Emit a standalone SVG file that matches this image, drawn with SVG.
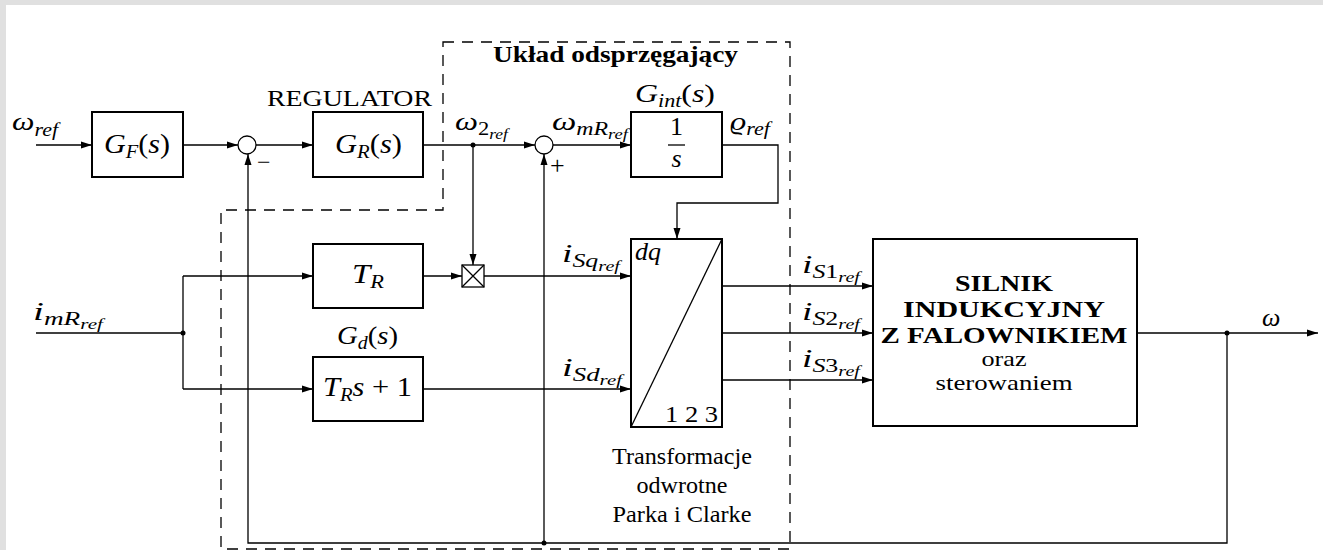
<svg xmlns="http://www.w3.org/2000/svg" width="1323" height="550" viewBox="0 0 1323 550">
<style>
.box{fill:#fff;stroke:#000;stroke-width:2}
.ln{fill:none;stroke:#000;stroke-width:1.3}
.dash{fill:none;stroke:#000;stroke-width:1.3;stroke-dasharray:11 8}
.m{font-family:"Liberation Serif",serif;font-style:italic;fill:#000}
.r{font-family:"Liberation Serif",serif;fill:#000}
.b{font-family:"Liberation Serif",serif;font-weight:bold;fill:#000}
.up{font-style:normal}
.dot{fill:#000}
</style>
<defs>
<marker id="ar" markerUnits="userSpaceOnUse" markerWidth="11" markerHeight="8" refX="11" refY="4" orient="auto">
<path d="M0,0.5 L11,4 L0,7.5 Z" fill="#000"/>
</marker>
</defs>
<rect x="0" y="0" width="1323" height="550" fill="#fff"/>
<rect x="0" y="0" width="1323" height="5" fill="#e0e0e0"/>
<rect x="0" y="0" width="6" height="550" fill="#e0e0e0"/>

<g id="decoupling-frame">
<path class="dash" d="M443,42 H790 V549 H221 V210 H443 Z"/>
<text class="b" x="493" y="62" font-size="23" textLength="245" lengthAdjust="spacingAndGlyphs">Układ odsprzęgający</text>
</g>

<g id="connectors">
<path class="ln" d="M36,145 H92" marker-end="url(#ar)"/>
<path class="ln" d="M183,145 H238" marker-end="url(#ar)"/>
<path class="ln" d="M256,145 H313" marker-end="url(#ar)"/>
<path class="ln" d="M423,145 H535" marker-end="url(#ar)"/>
<path class="ln" d="M553,145 H631" marker-end="url(#ar)"/>
<path class="ln" d="M722,145 H778 V203 H677 V239" marker-end="url(#ar)"/>
<path class="ln" d="M473,145 V265" marker-end="url(#ar)"/>
<path class="ln" d="M36,333 H183"/>
<path class="ln" d="M183,276 V389"/>
<path class="ln" d="M183,276 H313" marker-end="url(#ar)"/>
<path class="ln" d="M183,389 H313" marker-end="url(#ar)"/>
<path class="ln" d="M423,276 H462" marker-end="url(#ar)"/>
<path class="ln" d="M484,276 H631" marker-end="url(#ar)"/>
<path class="ln" d="M423,389 H631" marker-end="url(#ar)"/>
<path class="ln" d="M722,286 H873" marker-end="url(#ar)"/>
<path class="ln" d="M722,333 H873" marker-end="url(#ar)"/>
<path class="ln" d="M722,380 H873" marker-end="url(#ar)"/>
<path class="ln" d="M1137,333 H1318" marker-end="url(#ar)"/>
<path class="ln" d="M1227,333 V543 H248 V154" marker-end="url(#ar)"/>
<path class="ln" d="M544,543 V154" marker-end="url(#ar)"/>
<circle class="dot" cx="473" cy="145" r="2.5"/>
<circle class="dot" cx="183" cy="333" r="2.5"/>
<circle class="dot" cx="1227" cy="333" r="2.5"/>
<circle class="dot" cx="544" cy="543" r="2.5"/>
<text class="m" x="12" y="130" font-size="26" textLength="46" lengthAdjust="spacingAndGlyphs">ω<tspan font-size="18" dy="6">ref</tspan></text>
<text class="m" x="455" y="130" font-size="26" textLength="53" lengthAdjust="spacingAndGlyphs">ω<tspan class="up" font-size="18" dy="5">2</tspan><tspan font-size="14" dy="4">ref</tspan></text>
<text class="m" x="552" y="130" font-size="26" textLength="76" lengthAdjust="spacingAndGlyphs">ω<tspan font-size="18" dy="5">mR</tspan><tspan font-size="14" dy="4">ref</tspan></text>
<text class="m" x="730" y="130" font-size="26" textLength="40" lengthAdjust="spacingAndGlyphs">ϱ<tspan font-size="18" dy="5">ref</tspan></text>
<text class="m" x="33" y="320" font-size="26" textLength="70" lengthAdjust="spacingAndGlyphs">i<tspan font-size="18" dy="5">mR</tspan><tspan font-size="14" dy="4">ref</tspan></text>
<text class="m" x="562" y="262" font-size="26" textLength="58" lengthAdjust="spacingAndGlyphs">i<tspan font-size="18" dy="5">Sq</tspan><tspan font-size="14" dy="4">ref</tspan></text>
<text class="m" x="562" y="376" font-size="26" textLength="60" lengthAdjust="spacingAndGlyphs">i<tspan font-size="18" dy="5">Sd</tspan><tspan font-size="14" dy="4">ref</tspan></text>
<text class="m" x="802" y="273" font-size="26" textLength="58" lengthAdjust="spacingAndGlyphs">i<tspan font-size="18" dy="5">S</tspan><tspan class="up" font-size="18">1</tspan><tspan font-size="14" dy="4">ref</tspan></text>
<text class="m" x="802" y="320" font-size="26" textLength="58" lengthAdjust="spacingAndGlyphs">i<tspan font-size="18" dy="5">S</tspan><tspan class="up" font-size="18">2</tspan><tspan font-size="14" dy="4">ref</tspan></text>
<text class="m" x="802" y="367" font-size="26" textLength="58" lengthAdjust="spacingAndGlyphs">i<tspan font-size="18" dy="5">S</tspan><tspan class="up" font-size="18">3</tspan><tspan font-size="14" dy="4">ref</tspan></text>
<text class="m" x="1262" y="326" font-size="26">ω</text>
</g>

<g id="GF">
<rect class="box" x="92" y="112" width="91" height="65"/>
<text class="m" x="104" y="153" font-size="28" textLength="66" lengthAdjust="spacingAndGlyphs">G<tspan font-size="19" dy="5">F</tspan><tspan class="up" dy="-5">(</tspan>s<tspan class="up">)</tspan></text>
</g>

<g id="sum1">
<circle cx="247" cy="145" r="9" fill="#fff" stroke="#000" stroke-width="1.3"/>
<text class="r" x="257" y="170" font-size="24">−</text>
</g>

<g id="GR">
<text class="r" x="267" y="106" font-size="24" textLength="165" lengthAdjust="spacingAndGlyphs">REGULATOR</text>
<rect class="box" x="313" y="112" width="110" height="65"/>
<text class="m" x="335" y="153" font-size="28" textLength="67" lengthAdjust="spacingAndGlyphs">G<tspan font-size="19" dy="5">R</tspan><tspan class="up" dy="-5">(</tspan>s<tspan class="up">)</tspan></text>
</g>

<g id="sum2">
<circle cx="544" cy="145" r="9" fill="#fff" stroke="#000" stroke-width="1.3"/>
<text class="r" x="550" y="174" font-size="26">+</text>
</g>

<g id="Gint">
<text class="m" x="635" y="102" font-size="26" textLength="80" lengthAdjust="spacingAndGlyphs">G<tspan font-size="18" dy="5">int</tspan><tspan class="up" dy="-5">(</tspan>s<tspan class="up">)</tspan></text>
<rect class="box" x="631" y="112" width="91" height="65"/>
<text class="r" x="676.5" y="135" font-size="26" text-anchor="middle">1</text>
<line x1="668" y1="145" x2="685" y2="145" stroke="#000" stroke-width="1.3"/>
<text class="m" x="676.5" y="167" font-size="26" text-anchor="middle">s</text>
</g>

<g id="TR">
<rect class="box" x="313" y="244" width="110" height="64"/>
<text class="m" x="352" y="283" font-size="28" textLength="32" lengthAdjust="spacingAndGlyphs">T<tspan font-size="19" dy="5">R</tspan></text>
</g>

<g id="multiplier">
<rect x="462" y="265" width="22" height="22" fill="#fff" stroke="#000" stroke-width="1.3"/>
<path class="ln" d="M462,265 L484,287 M484,265 L462,287"/>
</g>

<g id="Gd">
<text class="m" x="337" y="344" font-size="26" textLength="61" lengthAdjust="spacingAndGlyphs">G<tspan font-size="18" dy="5">d</tspan><tspan class="up" dy="-5">(</tspan>s<tspan class="up">)</tspan></text>
<rect class="box" x="313" y="357" width="110" height="64"/>
<text class="m" x="323" y="396" font-size="28" textLength="89" lengthAdjust="spacingAndGlyphs">T<tspan font-size="19" dy="5">R</tspan><tspan dy="-5">s</tspan><tspan class="up"> + 1</tspan></text>
</g>

<g id="transform">
<rect class="box" x="631" y="239" width="91" height="188"/>
<line x1="631" y1="427" x2="722" y2="239" stroke="#000" stroke-width="1.3"/>
<text class="m" x="635" y="260" font-size="26">dq</text>
<text class="r" x="665" y="422" font-size="24" textLength="53" lengthAdjust="spacingAndGlyphs">1 2 3</text>
<text class="r" x="682" y="464" font-size="23" text-anchor="middle" textLength="140" lengthAdjust="spacingAndGlyphs">Transformacje</text>
<text class="r" x="682" y="493" font-size="23" text-anchor="middle" textLength="91" lengthAdjust="spacingAndGlyphs">odwrotne</text>
<text class="r" x="682" y="522" font-size="23" text-anchor="middle" textLength="139" lengthAdjust="spacingAndGlyphs">Parka i Clarke</text>
</g>

<g id="motor">
<rect class="box" x="873" y="239" width="264" height="187"/>
<text class="b" x="1004" y="291" font-size="24" text-anchor="middle" textLength="98" lengthAdjust="spacingAndGlyphs">SILNIK</text>
<text class="b" x="1004" y="317" font-size="24" text-anchor="middle" textLength="202" lengthAdjust="spacingAndGlyphs">INDUKCYJNY</text>
<text class="b" x="1004" y="343" font-size="24" text-anchor="middle" textLength="247" lengthAdjust="spacingAndGlyphs">Z FALOWNIKIEM</text>
<text class="r" x="1004" y="366" font-size="22" text-anchor="middle" textLength="45" lengthAdjust="spacingAndGlyphs">oraz</text>
<text class="r" x="1004" y="390" font-size="22" text-anchor="middle" textLength="137" lengthAdjust="spacingAndGlyphs">sterowaniem</text>
</g>
</svg>
